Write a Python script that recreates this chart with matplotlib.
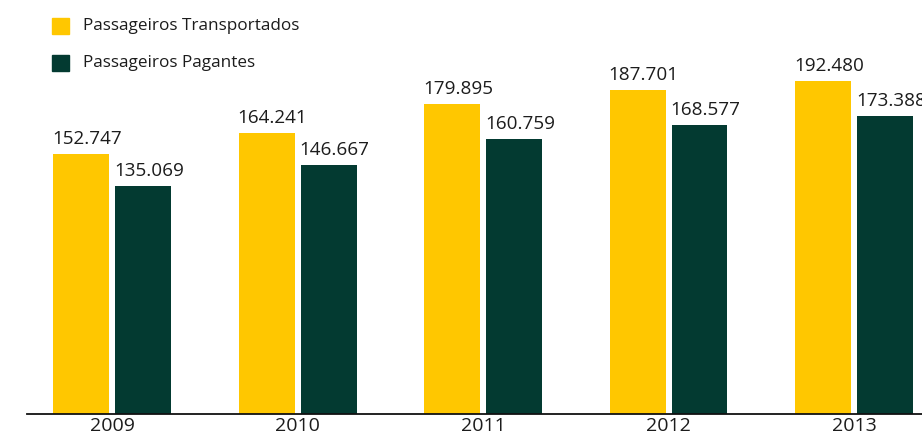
import matplotlib
matplotlib.use("Agg")
import matplotlib.pyplot as plt
from matplotlib.patches import Rectangle

# Dados (passageiros, em milhares)
anos = ["2009", "2010", "2011", "2012", "2013"]
transportados = [152747, 164241, 179895, 187701, 192480]
pagantes = [135069, 146667, 160759, 168577, 173388]
series = ["Passageiros Transportados", "Passageiros Pagantes"]

amarelo = "#FFC700"
verde = "#033A31"
cor_texto = "#1c1c1c"

plt.rcParams['font.family'] = ['Open Sans', 'DejaVu Sans']

W, H = 922, 438
fig = plt.figure(figsize=(W / 100, H / 100), dpi=100)
ax = fig.add_axes([27 / W, 24 / H, 895 / W, 414 / H])

largura = 0.302
desloc = 0.167
xs = range(len(anos))

def fmt(v):
    return f"{v:,}".replace(",", ".")

for i in xs:
    for val, cor, d in ((transportados[i], amarelo, -desloc), (pagantes[i], verde, desloc)):
        ax.bar(i + d, val, width=largura, color=cor, zorder=2)
        ax.annotate(fmt(val), (i + d - largura / 2 - 0.005, val), xytext=(0, 10),
                    textcoords="offset pixels", ha="left", va="baseline",
                    fontsize=13.6, color=cor_texto)

ax.set_xlim(-0.46, 4.367)
ax.set_ylim(11200, 236600)
for s in ("top", "right", "left"):
    ax.spines[s].set_visible(False)
ax.spines["bottom"].set_linewidth(1.3)
ax.spines["bottom"].set_color("#111111")
ax.set_yticks([])
ax.set_xticks(list(xs))
ax.set_xticklabels(anos, fontsize=14, color=cor_texto)
ax.tick_params(axis="x", length=0, pad=2)

# Legenda manual
for j, (nome, cor) in enumerate(zip(series, (amarelo, verde))):
    topo = 18 + j * 37
    fig.patches.append(Rectangle((52 / W, 1 - (topo + 16) / H), 17 / W, 16 / H,
                                 transform=fig.transFigure, color=cor))
    fig.text(83 / W, 1 - (topo + 8) / H, nome, fontsize=12.3, color=cor_texto,
             va="center", ha="left")

fig.savefig("out.png", dpi=100)
